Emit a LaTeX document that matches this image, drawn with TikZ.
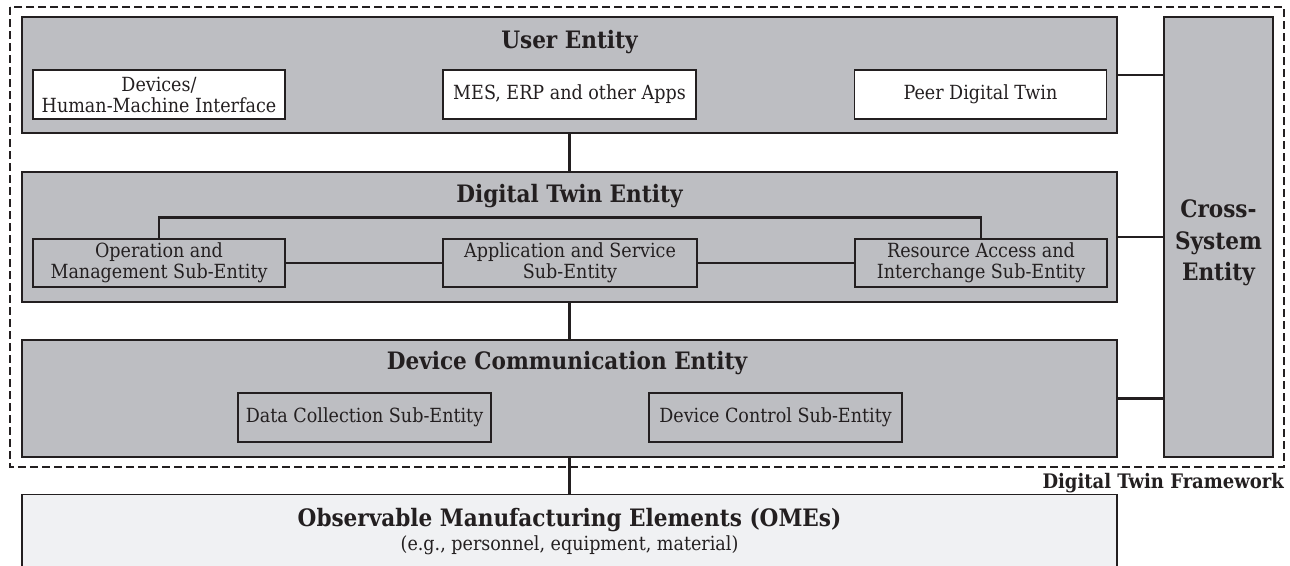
\documentclass[tikz,border=0pt]{standalone}
\usepackage{fontspec}
\setmainfont{DejaVu Serif Condensed}
\definecolor{ink}{HTML}{231F20}
\definecolor{panel}{HTML}{BDBEC2}
\definecolor{pale}{HTML}{F0F1F3}
\tikzset{
  entity/.style={draw=ink, line width=1.4pt, fill=panel, inner sep=0pt, rectangle},
  boxtext/.style={font=\fontsize{19.5}{21}\selectfont, text=ink, align=center},
  whitebox/.style={boxtext, draw=ink, line width=1.6pt, fill=white, inner sep=0pt,
    minimum width=252pt, minimum height=49pt},
  subbox/.style={boxtext, draw=ink, line width=2.6pt, fill=panel, inner sep=0pt,
    minimum width=252pt, minimum height=48pt},
  title/.style={font=\bfseries\fontsize{24}{26}\selectfont, text=ink, anchor=base, inner sep=0pt},
  link/.style={draw=ink, line width=2.5pt},
  frame/.style={draw=ink, line width=2.2pt, dash pattern=on 8pt off 4pt}
}
\begin{document}
\begin{tikzpicture}[x=1pt, y=-1pt]
\clip (0,0) rectangle (1290,565);

% dashed framework boundary
\draw[frame] (10,7) rectangle (1284,467);
\node[font=\bfseries\fontsize{20}{22}\selectfont, text=ink, anchor=base east, inner sep=0pt]
  (fwlabel) at (1284,488) {Digital Twin Framework};

% user entity
\node[entity, minimum width=1095pt, minimum height=116pt] (user) at (569.5,75) {};
\node[title] (usertitle) at (569.5,48) {User Entity};
\node[whitebox] (hmi) at (159,94.5) {Devices/\\Human-Machine Interface};
\node[whitebox, minimum width=253pt] (apps) at (569.5,94.5) {MES, ERP and other Apps};
\node[whitebox] (peer) at (980.5,94.5) {Peer Digital Twin};

% digital twin entity
\node[entity, minimum width=1095pt, minimum height=130pt] (dt) at (569.5,237) {};
\node[title] (dttitle) at (569.5,202) {Digital Twin Entity};
\node[subbox] (opm) at (159,263) {Operation and\\Management Sub-Entity};
\node[subbox, minimum width=254pt] (app) at (570,263) {Application and Service\\Sub-Entity};
\node[subbox] (res) at (981,263) {Resource Access and\\Interchange Sub-Entity};

% device communication entity
\node[entity, minimum width=1095pt, minimum height=117pt] (dc) at (569.5,398.5) {};
\node[title] (dctitle) at (567,369) {Device Communication Entity};
\node[subbox, minimum width=253pt, minimum height=49pt] (dcol) at (364.5,417.5) {Data Collection Sub-Entity};
\node[subbox, minimum width=253pt, minimum height=49pt] (dctl) at (775.5,417.5) {Device Control Sub-Entity};

% cross-system entity
\node[entity, minimum width=109pt, minimum height=440pt] (cross) at (1218.5,237) {};
\node[font=\bfseries\fontsize{24}{31.5}\selectfont, text=ink, align=center, inner sep=0pt]
  (crosstitle) at (1218.5,243) {Cross-\\System\\Entity};

% observable manufacturing elements
\node[draw=ink, line width=1.4pt, fill=pale, inner sep=0pt, anchor=north,
  minimum width=1095pt, minimum height=100pt] (ome) at (569.5,494) {};
\node[title] (ometitle) at (569.5,526) {Observable Manufacturing Elements (OMEs)};
\node[font=\fontsize{19.5}{21}\selectfont, text=ink, anchor=base, inner sep=0pt]
  (omesub) at (569.5,550) {(e.g., personnel, equipment, material)};

% connectors
\draw[link] (user.south) -- (dt.north);
\draw[link] (dt.south) -- (dc.north);
\draw[link] (dc.south) -- (ome.north);
\draw[link] (user.east) -- (user.east -| cross.west);
\draw[link] (dt.east) -- (dt.east -| cross.west);
\draw[link] (dc.east) -- (dc.east -| cross.west);
\draw[link] (opm.east) -- (app.west);
\draw[link] (app.east) -- (res.west);
\draw[link] (opm.north) -- ++(0,-20) -| (res.north);
\end{tikzpicture}
\end{document}
